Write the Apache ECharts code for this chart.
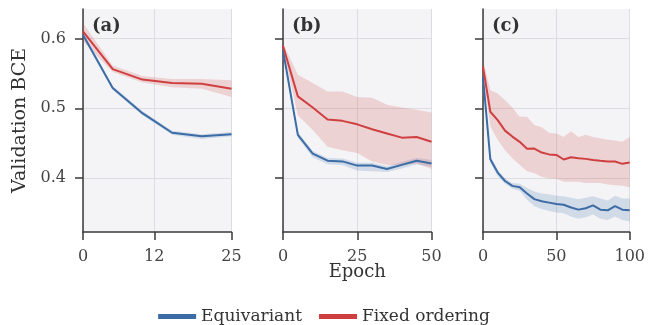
<!DOCTYPE html>
<html>
<head>
<meta charset="utf-8">
<script src="https://cdn.jsdelivr.net/npm/echarts@6/dist/echarts.min.js"></script>
<style>
  html, body { margin: 0; padding: 0; background: #fff; }
  #chart { width: 648px; height: 325px; }
</style>
</head>
<body>
<div id="chart"></div>
<script>
// data
const epochsA = [0, 5, 10, 15, 20, 25];
const eqA = [0.605, 0.529, 0.493, 0.465, 0.460, 0.463];
const eqALo = [0.601, 0.526, 0.490, 0.462, 0.456, 0.460];
const eqAHi = [0.609, 0.532, 0.496, 0.468, 0.463, 0.466];
const fxA = [0.610, 0.556, 0.541, 0.536, 0.535, 0.528];
const fxALo = [0.596, 0.552, 0.537, 0.530, 0.528, 0.516];
const fxAHi = [0.622, 0.561, 0.546, 0.542, 0.542, 0.540];

const epochsB = [0, 5, 10, 15, 20, 25, 30, 35, 40, 45, 50];
const eqB = [0.583, 0.462, 0.435, 0.425, 0.424, 0.418, 0.418, 0.413, 0.419, 0.425, 0.421];
const eqBLo = [0.579, 0.458, 0.430, 0.420, 0.419, 0.411, 0.410, 0.409, 0.414, 0.420, 0.416];
const eqBHi = [0.587, 0.466, 0.439, 0.429, 0.428, 0.422, 0.422, 0.417, 0.423, 0.429, 0.426];
const fxB = [0.5895, 0.517, 0.501, 0.484, 0.482, 0.477, 0.470, 0.464, 0.458, 0.459, 0.452];
const fxBLo = [0.586, 0.490, 0.469, 0.445, 0.440, 0.436, 0.424, 0.419, 0.419, 0.421, 0.413];
const fxBHi = [0.593, 0.548, 0.536, 0.524, 0.524, 0.516, 0.515, 0.505, 0.501, 0.498, 0.494];

const epochsC = [0, 5, 10, 15, 20, 25, 30, 35, 40, 45, 50, 55, 60, 65, 70, 75, 80, 85, 90, 95, 100];
const eqC = [0.545, 0.427, 0.408, 0.396, 0.389, 0.387, 0.378, 0.370, 0.367, 0.365, 0.363, 0.362, 0.358, 0.355, 0.357, 0.361, 0.355, 0.354, 0.360, 0.355, 0.354];
const eqCLo = [0.538, 0.422, 0.403, 0.392, 0.385, 0.382, 0.369, 0.360, 0.356, 0.353, 0.351, 0.350, 0.345, 0.342, 0.344, 0.348, 0.342, 0.340, 0.345, 0.340, 0.338];
const eqCHi = [0.552, 0.432, 0.412, 0.400, 0.393, 0.392, 0.386, 0.381, 0.378, 0.377, 0.375, 0.374, 0.372, 0.370, 0.372, 0.374, 0.371, 0.368, 0.375, 0.371, 0.371];
const fxC = [0.5595, 0.495, 0.483, 0.468, 0.4595, 0.452, 0.442, 0.4424, 0.4367, 0.434, 0.4333, 0.4267, 0.430, 0.4286, 0.4276, 0.426, 0.4248, 0.4238, 0.4238, 0.4205, 0.4224];
const fxCLo = [0.552, 0.474, 0.455, 0.440, 0.4286, 0.419, 0.410, 0.407, 0.402, 0.400, 0.399, 0.395, 0.395, 0.395, 0.393, 0.393, 0.393, 0.391, 0.390, 0.389, 0.387];
const fxCHi = [0.569, 0.526, 0.521, 0.512, 0.501, 0.488, 0.488, 0.476, 0.473, 0.465, 0.464, 0.459, 0.467, 0.459, 0.462, 0.459, 0.457, 0.455, 0.454, 0.452, 0.459];

const xMax = [25, 50, 100];
const xTicks = [[0, 12, 25], [0, 25, 50], [0, 50, 100]];
const yTicks = [0.4, 0.5, 0.6];
const panelNames = ['(a)', '(b)', '(c)'];

const BLUE = '#3b6ca6';
const RED = '#d03f40';
const FONT = 'DejaVu Serif';
const AXIS = '#3a3a3a';

const panels = [
    { x: epochsA, eq: eqA, eqLo: eqALo, eqHi: eqAHi, fx: fxA, fxLo: fxALo, fxHi: fxAHi },
    { x: epochsB, eq: eqB, eqLo: eqBLo, eqHi: eqBHi, fx: fxB, fxLo: fxBLo, fxHi: fxBHi },
    { x: epochsC, eq: eqC, eqLo: eqCLo, eqHi: eqCHi, fx: fxC, fxLo: fxCLo, fxHi: fxCHi },
];
const gridLefts = [83, 283, 483];

const pairs = (xs, ys) => xs.map((x, i) => [x, ys[i]]);

const grid = gridLefts.map((left) => ({
    left: left, top: 9, width: 148.5, height: 223,
    show: true, backgroundColor: '#f4f4f7', borderWidth: 0,
}));

const xAxis = panels.map((p, i) => ({
    type: 'value', gridIndex: i, min: 0, max: xMax[i],
    name: i === 1 ? 'Epoch' : '',
    nameLocation: 'middle', nameGap: 31, nameMoveOverlap: false,
    nameTextStyle: { fontFamily: FONT, fontSize: 18, color: '#333' },
    axisLine: { show: true, lineStyle: { color: AXIS, width: 1.5 } },
    axisTick: { show: true, length: 8, customValues: xTicks[i], lineStyle: { color: AXIS, width: 1.5 } },
    axisLabel: { customValues: xTicks[i], margin: 17, fontFamily: FONT, fontSize: 16, color: '#444' },
    splitLine: { show: true, lineStyle: { color: '#dcdce1', width: 1 } },
}));

const yAxis = panels.map((p, i) => ({
    type: 'value', gridIndex: i, min: 0.323, max: 0.642,
    name: i === 0 ? 'Validation BCE' : '',
    nameLocation: 'middle', nameGap: 53, nameMoveOverlap: false,
    nameTextStyle: { fontFamily: FONT, fontSize: 19, color: '#333' },
    axisLine: { show: true, lineStyle: { color: AXIS, width: 1.5 } },
    axisTick: { show: true, length: 8, customValues: yTicks, lineStyle: { color: AXIS, width: 1.5 } },
    axisLabel: {
        show: i === 0, customValues: yTicks, margin: 17,
        fontFamily: FONT, fontSize: 16, color: '#444',
        formatter: (v) => v.toFixed(1),
    },
    splitLine: { show: true, lineStyle: { color: '#dcdce1', width: 1 } },
}));

// shaded band between lo and hi, drawn as one polygon through the axes
function bandSeries(i, xs, lo, hi, col) {
    return {
        type: 'custom', xAxisIndex: i, yAxisIndex: i, silent: true, clip: true, z: 1,
        data: xs.map((x, k) => [x, lo[k], hi[k]]),
        encode: { x: 0, y: [1, 2] },
        renderItem: (params, api) => {
            if (params.dataIndex !== 0) return null;
            const pts = [];
            for (let k = 0; k < xs.length; k++) pts.push(api.coord([xs[k], hi[k]]));
            for (let k = xs.length - 1; k >= 0; k--) pts.push(api.coord([xs[k], lo[k]]));
            return { type: 'polygon', shape: { points: pts }, style: { fill: col, opacity: 0.19 } };
        },
    };
}

const series = [];
panels.forEach((p, i) => {
    series.push(bandSeries(i, p.x, p.eqLo, p.eqHi, BLUE));
    series.push(bandSeries(i, p.x, p.fxLo, p.fxHi, RED));
});
panels.forEach((p, i) => {
    series.push({
        type: 'line', name: 'Equivariant', xAxisIndex: i, yAxisIndex: i,
        symbol: 'none', color: BLUE, lineStyle: { color: BLUE, width: 2 },
        data: pairs(p.x, p.eq), z: 3,
    });
    series.push({
        type: 'line', name: 'Fixed ordering', xAxisIndex: i, yAxisIndex: i,
        symbol: 'none', color: RED, lineStyle: { color: RED, width: 2 },
        data: pairs(p.x, p.fx), z: 3,
    });
});

const chart = echarts.init(document.getElementById('chart'));
chart.setOption({
    animation: false,
    title: panelNames.map((t, i) => ({
        text: t, left: gridLefts[i] + 9, top: 17, padding: 0,
        textStyle: { fontFamily: FONT, fontSize: 18, fontWeight: 'bold', color: '#333' },
    })),
    legend: {
        data: ['Equivariant', 'Fixed ordering'],
        left: 'center', top: 303,
        icon: 'rect', itemWidth: 38, itemHeight: 5, itemGap: 17,
        textStyle: { fontFamily: FONT, fontSize: 17, color: '#333' },
    },
    grid: grid,
    xAxis: xAxis,
    yAxis: yAxis,
    series: series,
});
</script>
</body>
</html>
